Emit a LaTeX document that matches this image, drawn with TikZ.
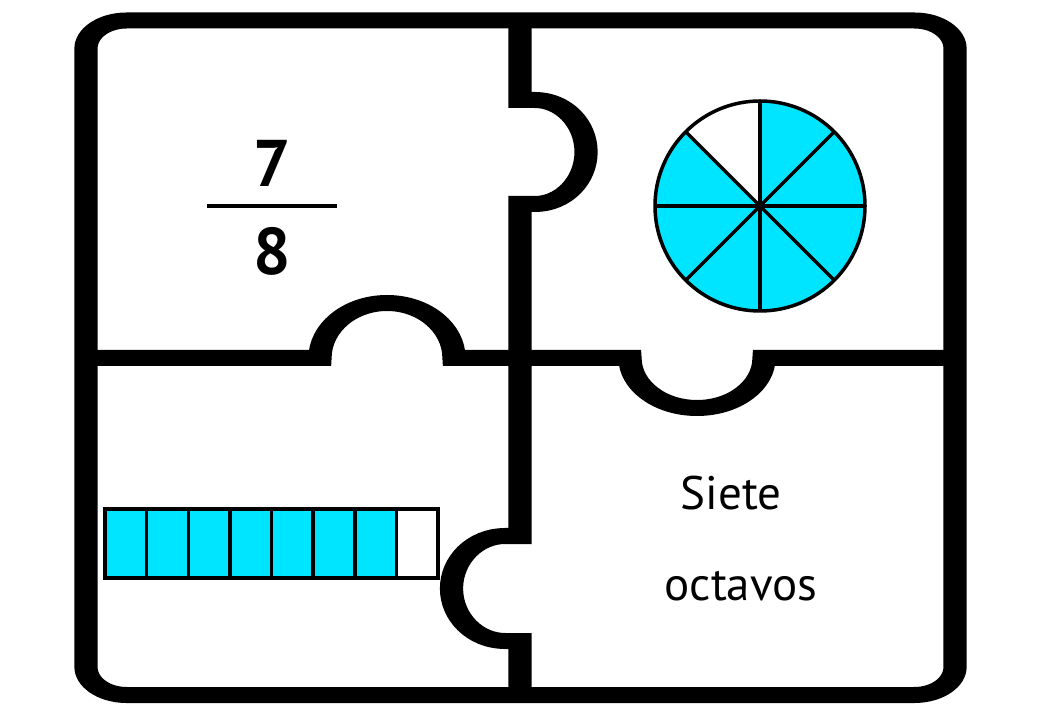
\documentclass[tikz,border=0pt]{standalone}
\usepackage{fontspec}
\setmainfont{PT Sans}
\usepackage{xcolor}
\usetikzlibrary{positioning, calc}
\definecolor{piecyan}{RGB}{0,229,255}

\begin{document}
\begin{tikzpicture}[x=1pt, y=1pt,
    piece/.style={line width=16pt},
    part/.style={line width=3.5pt},
    shade/.style={fill=piecyan},
    numeral/.style={font=\fontsize{66}{66}\selectfont\bfseries},
    word/.style={font=\fontsize{47}{47}\selectfont, anchor=base}]
\useasboundingbox (0,0) rectangle (1040,720);
% puzzle outline, wider strokes across than along
\begin{scope}[transform canvas={xscale=1.45}, x=0.68966pt]
\draw[piece, rounded corners=28pt] (86,25) rectangle (955,699.5);
\draw[piece] (520,699.5) -- (520,620) -- (535,620)
    arc[start angle=90, end angle=-90, x radius=35.2pt, y radius=52pt]
    -- (520,516) -- (520,362);
\draw[piece] (520,362) -- (520,184) -- (505,184)
    arc[start angle=90, end angle=270, x radius=36.9pt, y radius=52.5pt]
    -- (520,79) -- (520,25);
\draw[piece] (86,362) -- (320,362)
    arc[start angle=180, end angle=0, x radius=46.2pt, y radius=55pt]
    -- (630,362)
    arc[start angle=180, end angle=360, x radius=46.2pt, y radius=50pt]
    -- (955,362);
\end{scope}

% fraction
\node[numeral] (num) at (272,556.5) {7};
\node[numeral] (den) at (272,468.5) {8};
\draw[line width=4pt] (207,514) -- (337,514);

% pie
\coordinate (pie) at (760,514);
\fill[shade] (pie) circle[radius=105];
\fill[white] (pie) -- ++(90:105) arc[start angle=90, end angle=135, radius=105] -- cycle;
\foreach \a in {0,45,...,135}
    \draw[part] ($(pie)+(\a:105)$) -- ($(pie)+(\a+180:105)$);
\draw[part] (pie) circle[radius=105];

% bar
\foreach \i in {0,...,6}
    \fill[shade] (105+\i*41.625,142) rectangle ++(41.625,69);
\foreach \i in {1,...,7}
    \draw[part] (105+\i*41.625,142) -- ++(0,69);
\draw[part] (105,142) rectangle (438,211);

% words
\node[word] (siete) at (731,210) {Siete};
\node[word] (octavos) at (741,120) {octavos};
\end{tikzpicture}
\end{document}
